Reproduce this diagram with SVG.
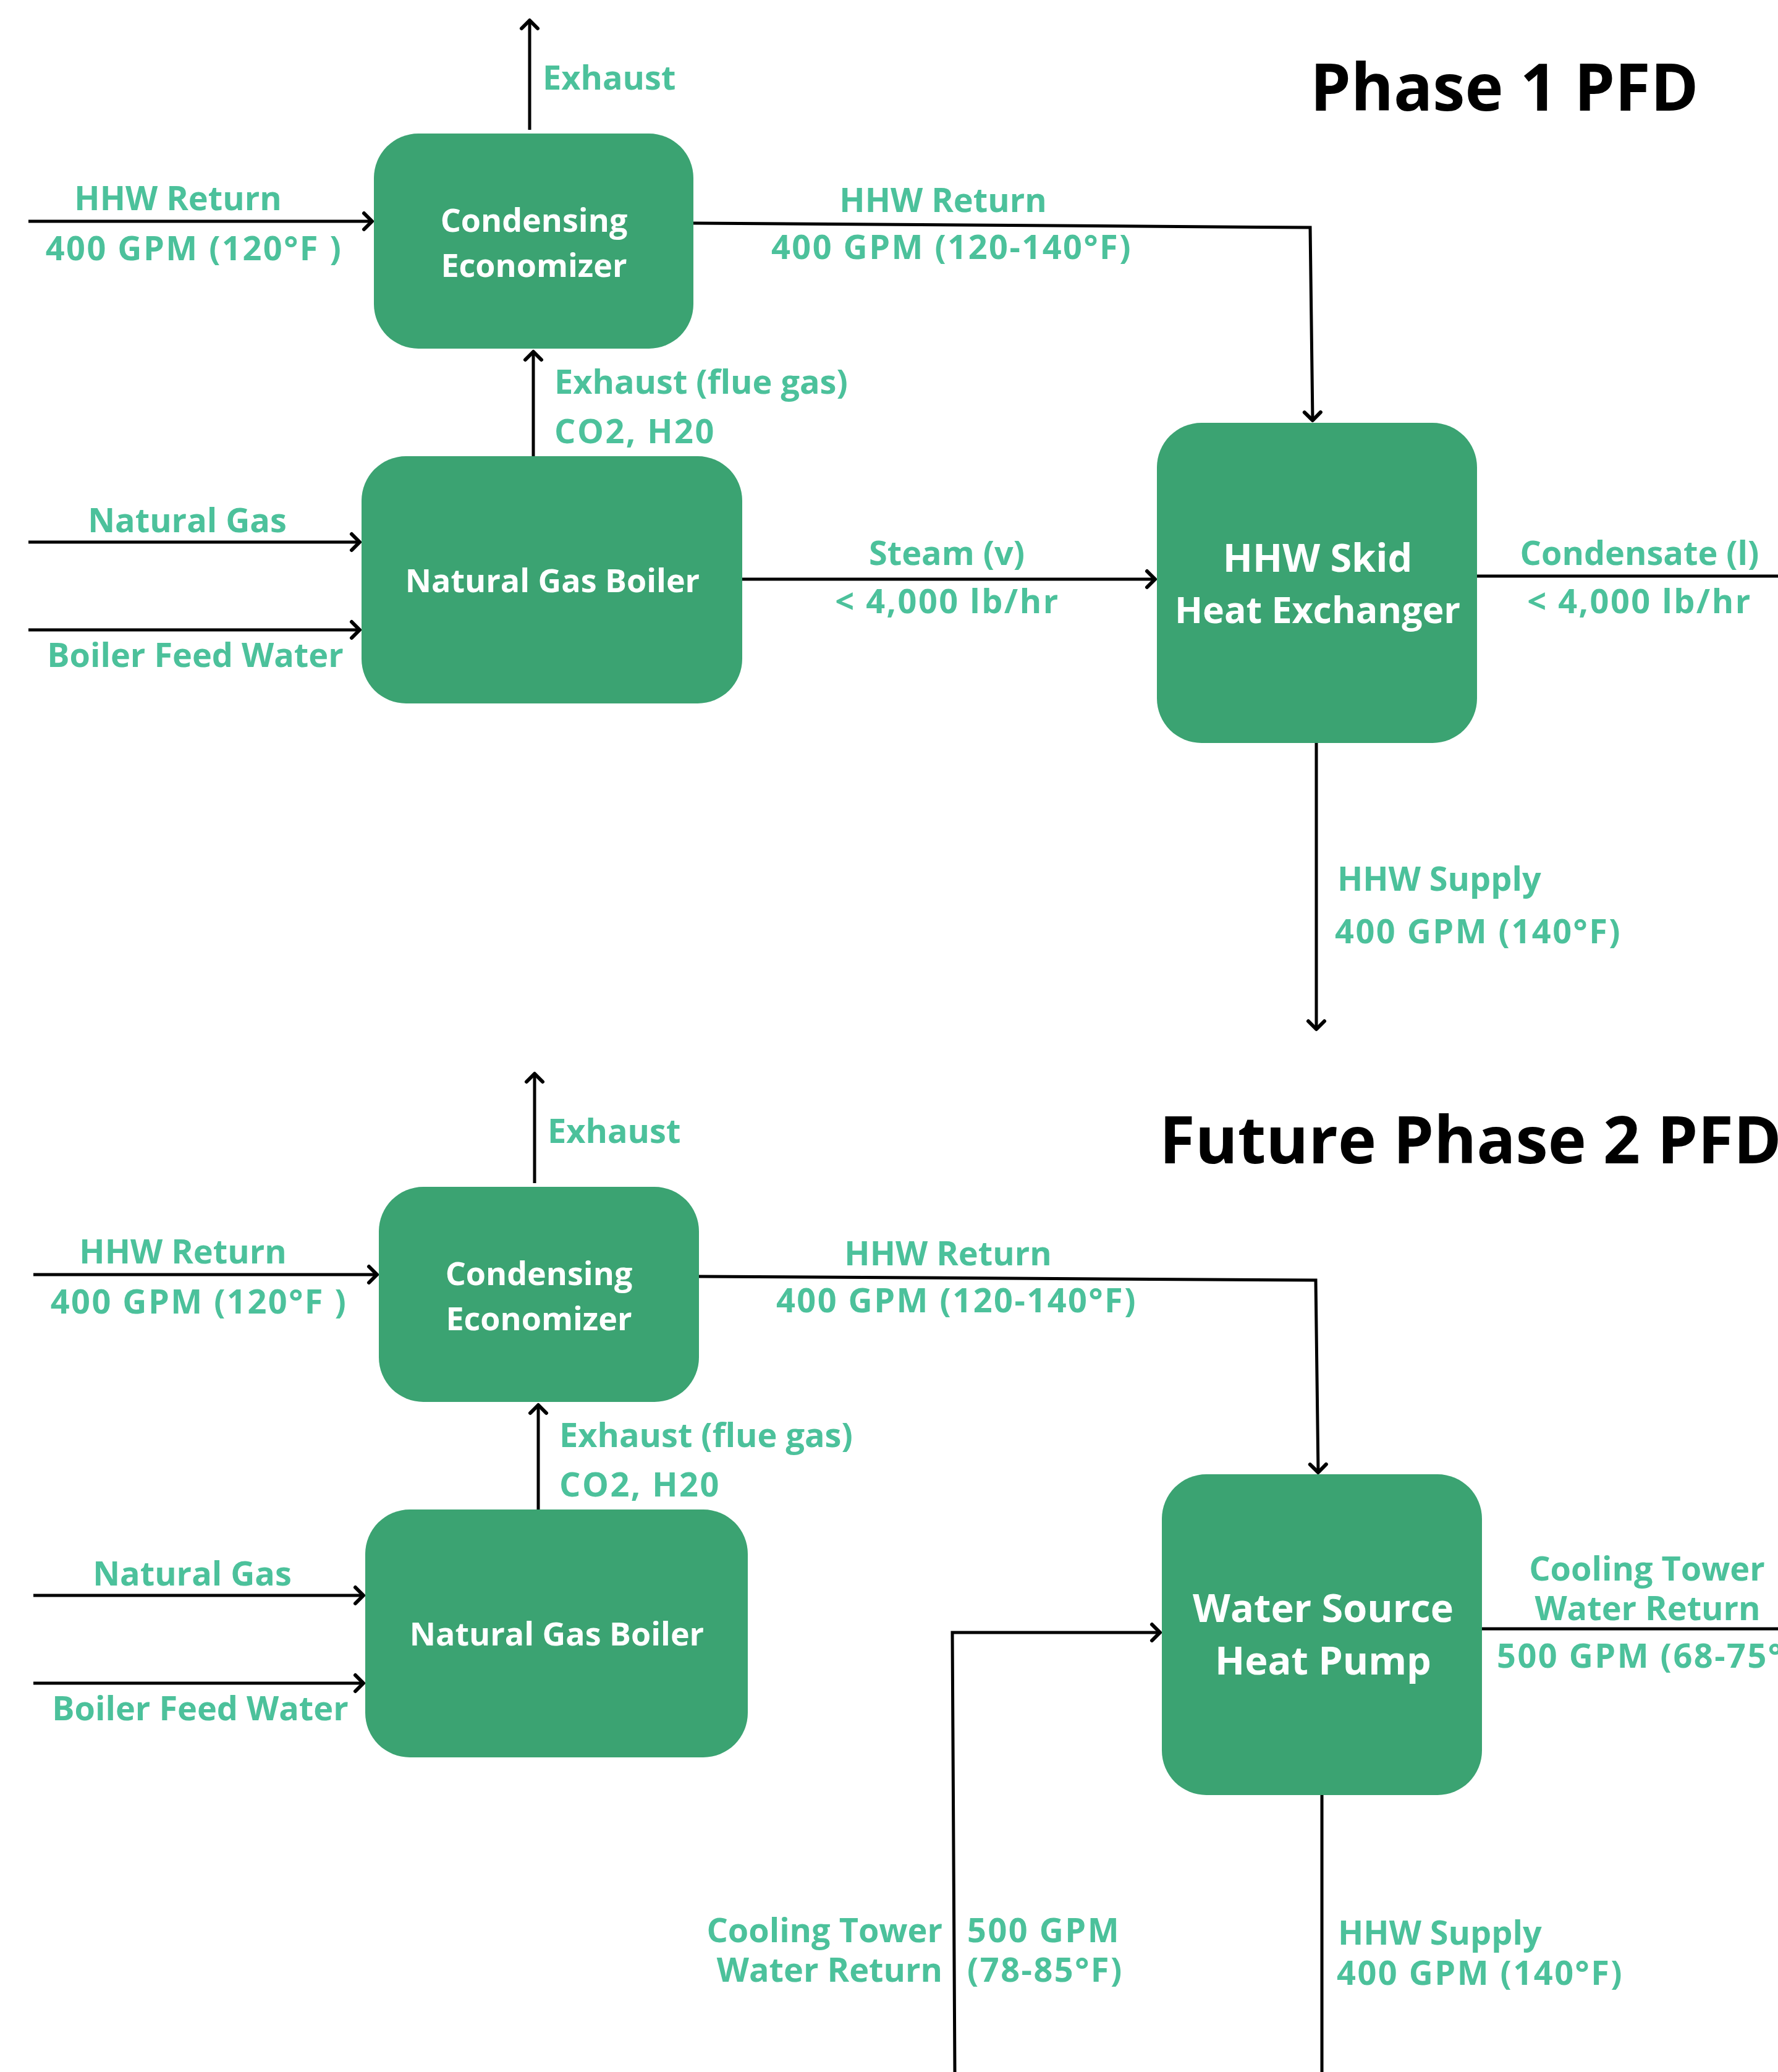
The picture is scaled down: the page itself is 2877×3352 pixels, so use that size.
<svg xmlns="http://www.w3.org/2000/svg" width="2877" height="3352" viewBox="0 0 2877 3352">
<style>
.box{fill:#3ba372;}
.nt{font-family:"Open Sans","Liberation Sans",sans-serif;font-weight:700;fill:#ffffff;text-anchor:middle;}
.lb{font-family:"Open Sans","Liberation Sans",sans-serif;font-weight:700;fill:#4cc19b;font-size:54px;}
.num{letter-spacing:2.5px;}
.mid{text-anchor:middle;}
.end{text-anchor:end;}
.title{font-family:"Open Sans","Liberation Sans",sans-serif;font-weight:700;fill:#000000;font-size:105px;}
.ln{fill:none;stroke:#000000;stroke-width:5;}
.arr{marker-end:url(#ah);}
</style>
<defs>
<marker id="ah" markerUnits="userSpaceOnUse" markerWidth="40" markerHeight="40" refX="0" refY="0" viewBox="-20 -20 40 40" orient="auto" overflow="visible">
<path d="M-13,-13 L0,0 L-13,13" fill="none" stroke="#000000" stroke-width="6" stroke-linecap="round" stroke-linejoin="round"/>
</marker>
</defs>
<rect width="2877" height="3352" fill="#ffffff"/>

<text class="title" x="2120" y="179">Phase 1 PFD</text>
<text class="title" x="1876" y="1882">Future Phase 2 PFD</text>

<g id="connectors">
<!-- Phase 1 -->
<path class="ln arr" d="M857,210 L857,33"/>
<path class="ln arr" d="M46,358 L602,358"/>
<path class="ln arr" d="M863,738 L863,569"/>
<path class="ln arr" d="M46,877 L582,877"/>
<path class="ln arr" d="M46,1019 L582,1019"/>
<path class="ln arr" d="M1122,361 L2120,368 L2124,680"/>
<path class="ln arr" d="M1201,937 L1869,937"/>
<path class="ln" d="M2390,932 L2877,932"/>
<path class="ln arr" d="M2130,1202 L2130,1665"/>
<!-- Phase 2 -->
<path class="ln arr" d="M865,1914 L865,1737"/>
<path class="ln arr" d="M54,2062 L610,2062"/>
<path class="ln arr" d="M871,2442 L871,2273"/>
<path class="ln arr" d="M54,2581 L588,2581"/>
<path class="ln arr" d="M54,2723 L588,2723"/>
<path class="ln arr" d="M1131,2065 L2129,2071 L2133,2382"/>
<path class="ln arr" d="M1545,3352 L1541,2641 L1877,2641"/>
<path class="ln" d="M2398,2635 L2877,2635"/>
<path class="ln" d="M2139,2904 L2139,3352"/>
</g>

<g id="p1-economizer">
<rect class="box" x="605" y="216" width="517" height="348" rx="72"/>
<text class="nt" x="864" y="375" font-size="52">Condensing</text>
<text class="nt" x="864" y="448" font-size="52">Economizer</text>
</g>
<g id="p1-boiler">
<rect class="box" x="585" y="738" width="616" height="400" rx="72"/>
<text class="nt" x="894" y="958" font-size="52">Natural Gas Boiler</text>
</g>
<g id="p1-hx">
<rect class="box" x="1872" y="684" width="518" height="518" rx="72"/>
<text class="nt" x="2132" y="925" font-size="63">HHW Skid</text>
<text class="nt" x="2132" y="1008" font-size="59">Heat Exchanger</text>
</g>

<g id="p2-economizer">
<rect class="box" x="613" y="1920" width="518" height="348" rx="72"/>
<text class="nt" x="872" y="2079" font-size="52">Condensing</text>
<text class="nt" x="872" y="2152" font-size="52">Economizer</text>
</g>
<g id="p2-boiler">
<rect class="box" x="591" y="2442" width="619" height="401" rx="72"/>
<text class="nt" x="901" y="2662" font-size="52">Natural Gas Boiler</text>
</g>
<g id="p2-heatpump">
<rect class="box" x="1880" y="2385" width="518" height="519" rx="72"/>
<text class="nt" x="2141" y="2624" font-size="63">Water Source</text>
<text class="nt" x="2141" y="2709" font-size="63">Heat Pump</text>
</g>

<g id="labels">
<!-- Phase 1 -->
<text class="lb" x="878" y="145">Exhaust</text>
<text class="lb mid" x="288" y="340">HHW Return</text>
<text class="lb mid num" x="314" y="421">400 GPM (120°F )</text>
<text class="lb" x="897" y="637">Exhaust (flue gas)</text>
<text class="lb num" x="897" y="717">CO2, H20</text>
<text class="lb mid" x="303" y="861">Natural Gas</text>
<text class="lb mid" x="316" y="1079">Boiler Feed Water</text>
<text class="lb mid" x="1526" y="343">HHW Return</text>
<text class="lb mid num" x="1540" y="419">400 GPM (120-140°F)</text>
<text class="lb mid" x="1532" y="914">Steam (v)</text>
<text class="lb mid num" x="1533" y="992">&lt; 4,000 lb/hr</text>
<text class="lb mid" x="2653" y="914">Condensate (l)</text>
<text class="lb mid num" x="2653" y="992">&lt; 4,000 lb/hr</text>
<text class="lb" x="2164" y="1441">HHW Supply</text>
<text class="lb num" x="2160" y="1526">400 GPM (140°F)</text>
<!-- Phase 2 -->
<text class="lb" x="886" y="1849">Exhaust</text>
<text class="lb mid" x="296" y="2044">HHW Return</text>
<text class="lb mid num" x="322" y="2125">400 GPM (120°F )</text>
<text class="lb" x="905" y="2341">Exhaust (flue gas)</text>
<text class="lb num" x="905" y="2421">CO2, H20</text>
<text class="lb mid" x="311" y="2565">Natural Gas</text>
<text class="lb mid" x="324" y="2783">Boiler Feed Water</text>
<text class="lb mid" x="1534" y="2047">HHW Return</text>
<text class="lb mid num" x="1548" y="2123">400 GPM (120-140°F)</text>
<text class="lb mid" x="2665" y="2557">Cooling Tower</text>
<text class="lb mid" x="2666" y="2621">Water Return</text>
<text class="lb num" x="2422" y="2698">500 GPM (68-75°F)</text>
<text class="lb end" x="1525" y="3142">Cooling Tower</text>
<text class="lb end" x="1525" y="3206">Water Return</text>
<text class="lb num" x="1565" y="3142">500 GPM</text>
<text class="lb num" x="1565" y="3206">(78-85°F)</text>
<text class="lb" x="2165" y="3146">HHW Supply</text>
<text class="lb num" x="2163" y="3211">400 GPM (140°F)</text>
</g>
</svg>
